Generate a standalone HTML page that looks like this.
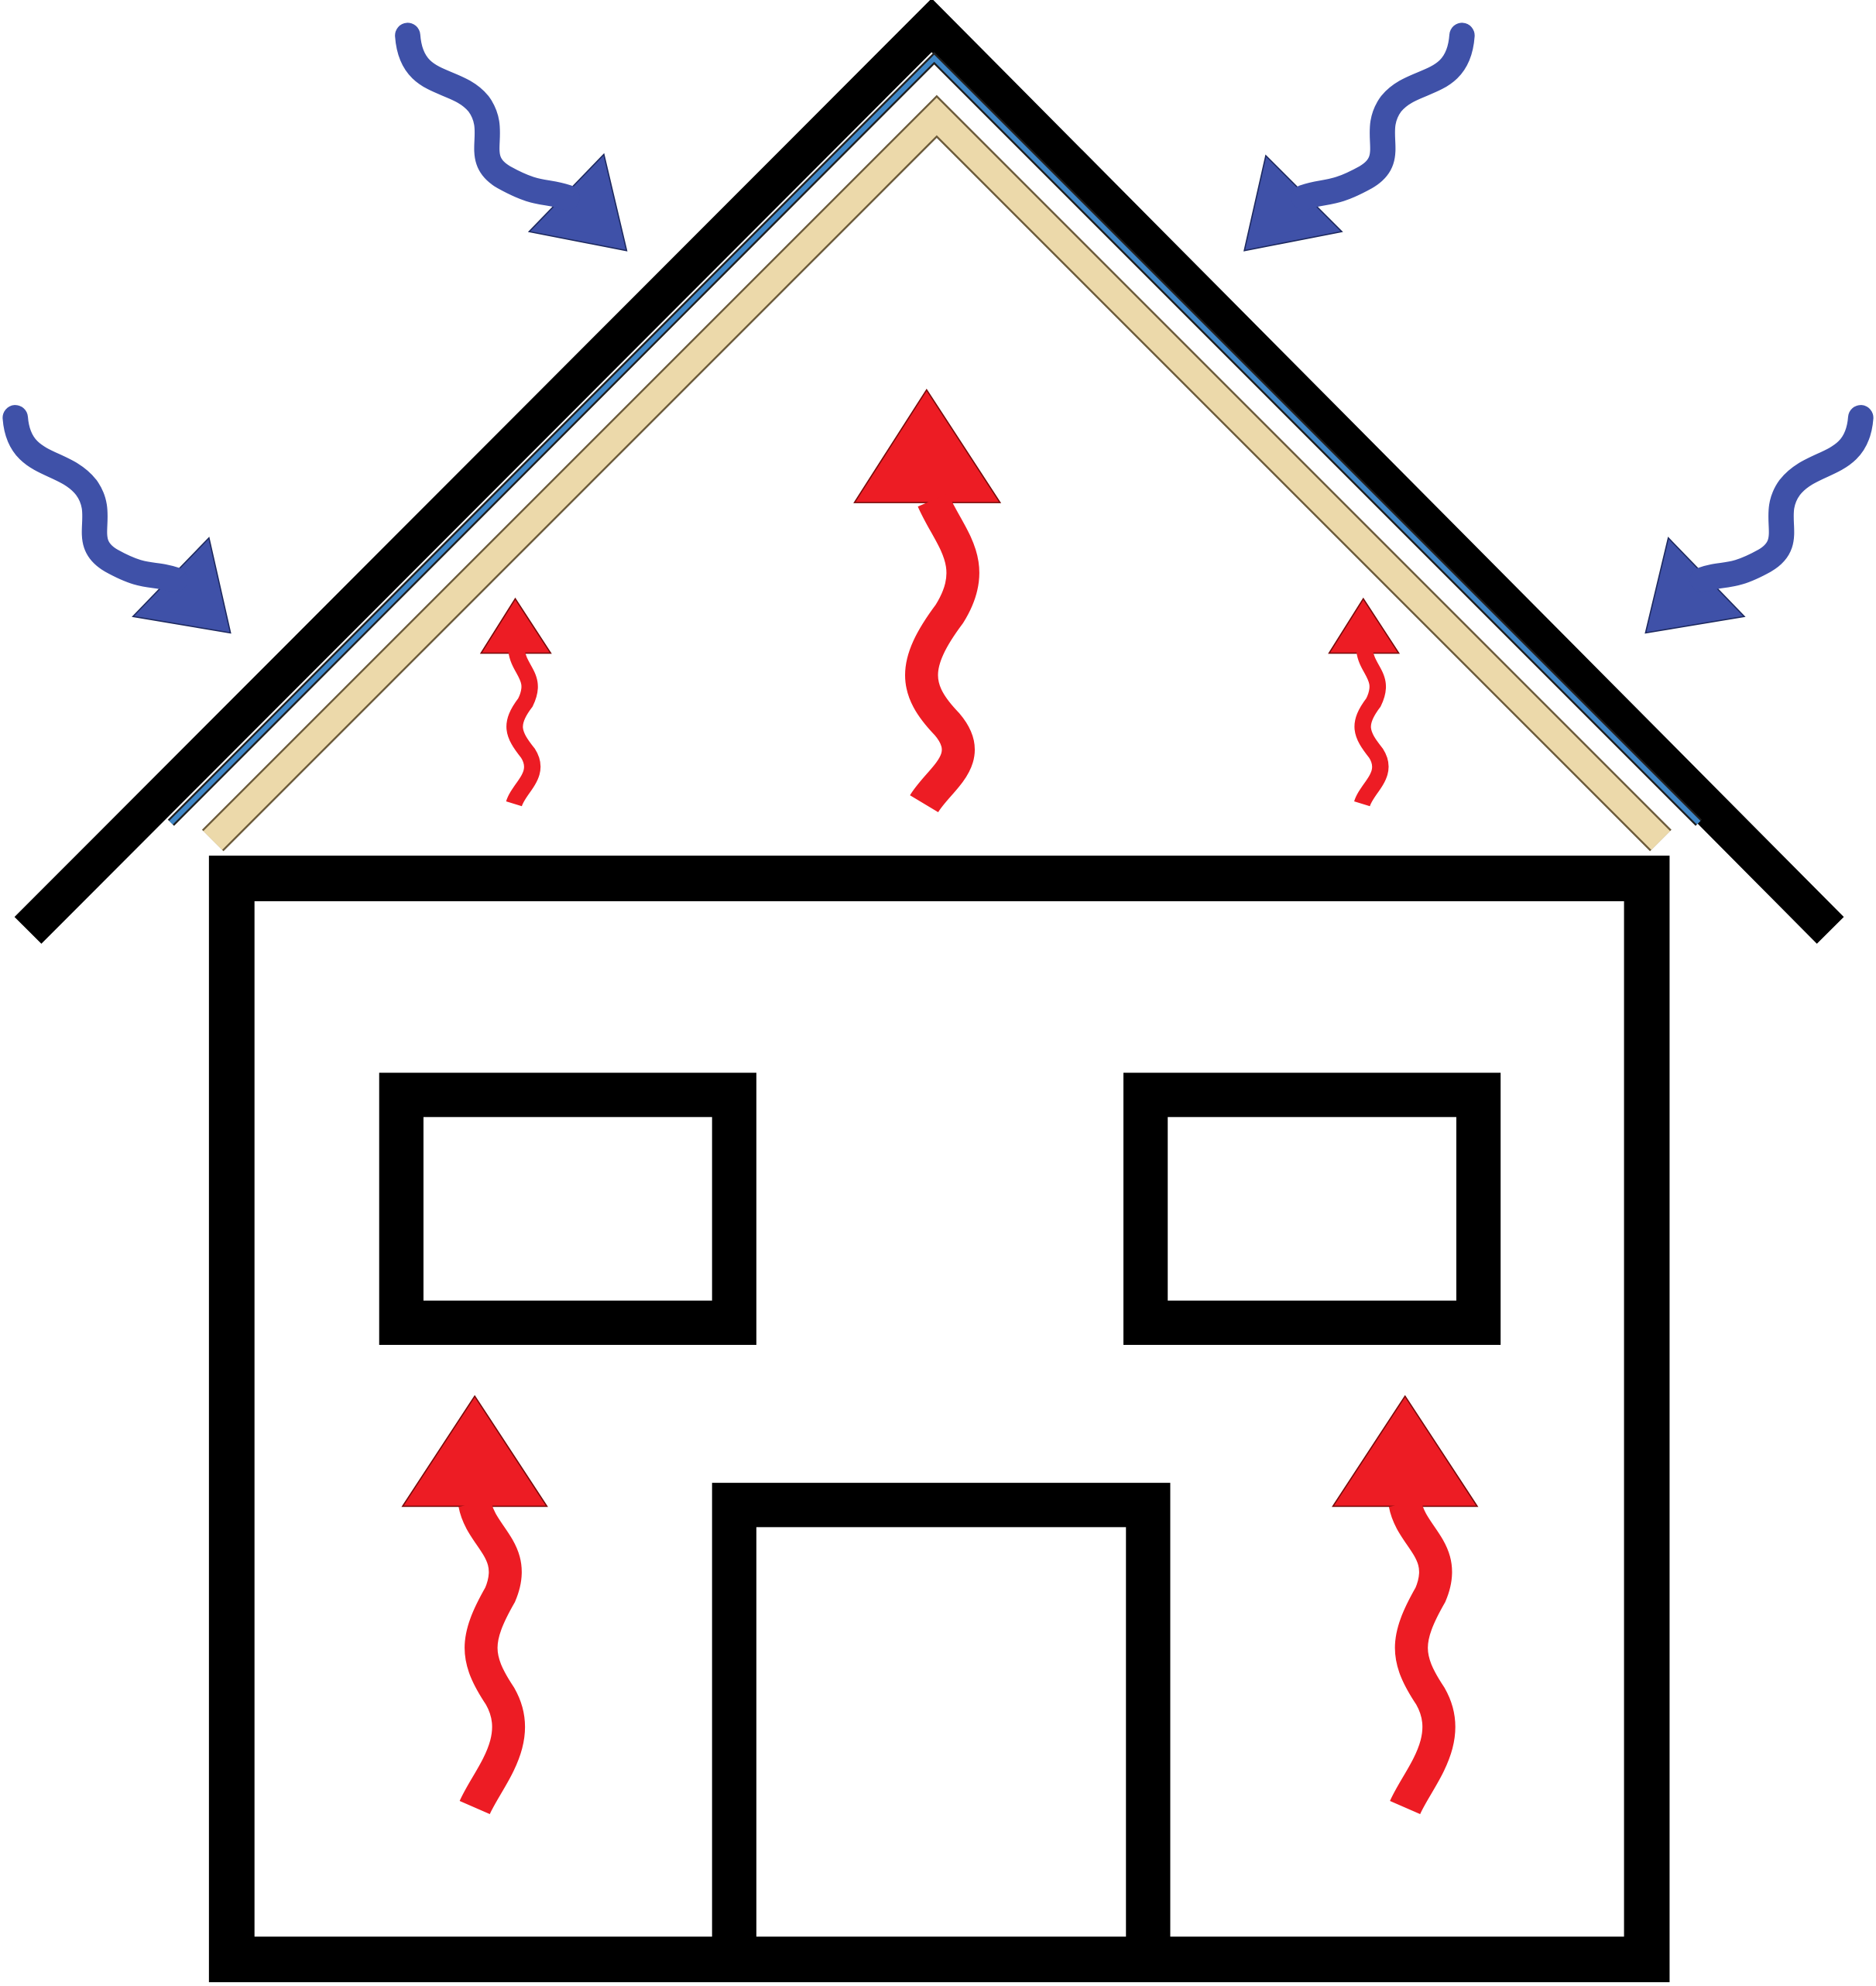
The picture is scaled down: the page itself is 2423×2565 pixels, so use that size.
<!DOCTYPE html>
<html><head><meta charset="utf-8"><style>html,body{margin:0;padding:0;background:#fff}svg{display:block}</style></head>
<body>
<svg width="2423" height="2565" viewBox="0 0 1482 1569" xmlns="http://www.w3.org/2000/svg">
<rect width="1482" height="1569" fill="#fff"/>
<!-- roof -->
<polyline points="22,735 736,20 1446,735" fill="none" stroke="#000" stroke-width="30" stroke-linejoin="miter"/>
<polyline points="135,650 738,46 1342,650" fill="none" stroke="#1f1f1f" stroke-width="7"/>
<polyline points="135,650 738,46 1342,650" fill="none" stroke="#3f86c6" stroke-width="4"/>
<polyline points="168,664 740,92 1312,664" fill="none" stroke="#6b5a3a" stroke-width="24"/>
<polyline points="168,664 740,92 1312,664" fill="none" stroke="#ecd9aa" stroke-width="21"/>
<!-- house -->
<rect x="183" y="694" width="1118" height="854" fill="none" stroke="#000" stroke-width="36"/>
<rect x="317" y="865" width="263" height="180" fill="none" stroke="#000" stroke-width="35"/>
<rect x="905" y="865" width="263" height="180" fill="none" stroke="#000" stroke-width="35"/>
<polyline points="580,1565 580,1189 907,1189 907,1565" fill="none" stroke="#000" stroke-width="35"/>
<!-- red arrows -->
<g fill="#ed1c24" stroke="#7a0a0a" stroke-width="1">
<polygon points="732,308 675,397 790,397"/>
<polygon points="407,473 380,516 435,516"/>
<polygon points="1077,473 1050,516 1105,516"/>
<polygon points="375,1103 318,1190 432,1190"/>
<polygon points="1110,1103 1053,1190 1167,1190"/>
</g>
<g fill="none" stroke="#ed1c24" stroke-linecap="butt">
<path d="M737,395 C750,425 775,445 750,485 C720,525 722,545 748,572 C772,600 742,615 730,635" stroke-width="26"/>
<path d="M408,514 C410,530 425,535 415,555 C402,572 405,580 417,595 C428,612 410,622 406,635" stroke-width="13"/>
<path d="M1078,514 C1080,530 1095,535 1085,555 C1072,572 1075,580 1087,595 C1098,612 1080,622 1076,635" stroke-width="13"/>
<path d="M375,1188 C380,1215 410,1225 395,1260 C375,1295 375,1310 395,1340 C415,1375 385,1405 375,1428" stroke-width="26"/>
<path d="M1110,1188 C1115,1215 1145,1225 1130,1260 C1110,1295 1110,1310 1130,1340 C1150,1375 1120,1405 1110,1428" stroke-width="26"/>
</g>
<!-- blue arrows -->
<g fill="#3f51a8" stroke="#1e2a60" stroke-width="1">
<polygon points="495,198 477,122 418,183"/>
<polygon points="182,500 165,425 105,487"/>
<polygon points="983,198 1000,123 1060,183"/>
<polygon points="1300,500 1318,425 1378,487"/>
</g>
<g fill="none" stroke="#3f51a8" stroke-width="20" stroke-linecap="round">
<path d="M322,28 C325,70 360,60 378,82 C395,105 372,125 398,140 C425,155 430,150 448,156"/>
<path d="M12,330 C15,370 50,362 68,385 C85,408 62,428 88,443 C115,458 120,452 138,458"/>
<path d="M1155,28 C1152,70 1117,60 1099,82 C1082,105 1105,125 1079,140 C1052,155 1047,150 1030,156"/>
<path d="M1470,330 C1467,370 1432,362 1414,385 C1397,408 1420,428 1394,443 C1367,458 1362,452 1345,458"/>
</g>
</svg>
</body></html>
